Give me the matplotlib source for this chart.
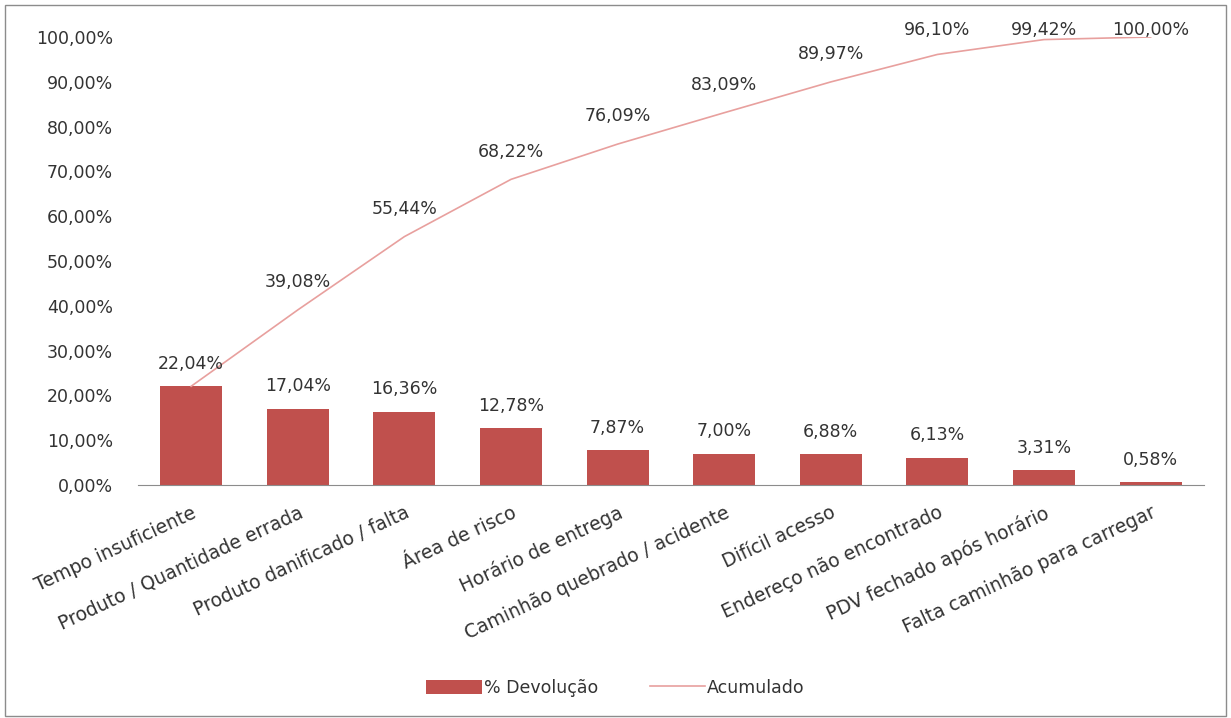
import matplotlib.pyplot as plt
from matplotlib.patches import Rectangle

categorias = ["Tempo insuficiente", "Produto / Quantidade errada",
              "Produto danificado / falta", "Área de risco",
              "Horário de entrega", "Caminhão quebrado / acidente",
              "Difícil acesso", "Endereço não encontrado",
              "PDV fechado após horário", "Falta caminhão para carregar"]
devolucao = [22.04, 17.04, 16.36, 12.78, 7.87, 7.00, 6.88, 6.13, 3.31, 0.58]
acumulado = [22.04, 39.08, 55.44, 68.22, 76.09, 83.09, 89.97, 96.10, 99.42, 100.00]
yticks = [0, 10, 20, 30, 40, 50, 60, 70, 80, 90, 100]


def fmt(v):
    return "{:.2f}%".format(v).replace(".", ",")


plt.rcParams['font.family'] = ['DejaVu Sans']
fs = 12.5
cor_txt = "#333333"
fig = plt.figure(figsize=(12.31, 7.18), dpi=100)
ax = fig.add_axes([0.112, 0.3245, 0.866, 0.624])

x = list(range(len(categorias)))
ax.bar(x, devolucao, width=0.58, color="#c0504d", label="% Devolução", zorder=2)
ax.plot(x, acumulado, color="#e8a09e", lw=1.2, label="Acumulado", zorder=3)

# rótulos das barras
for xi, v in zip(x, devolucao):
    ax.annotate(fmt(v), (xi, v), xytext=(0, 16), textcoords="offset points",
                ha="center", va="center", fontsize=fs, color=cor_txt)
# rótulos da linha (o primeiro coincide com o da barra)
for xi, v in list(zip(x, acumulado))[1:]:
    ax.text(xi, min(v + 6.2, 101.6), fmt(v), ha="center", va="center",
            fontsize=fs, color=cor_txt, clip_on=False)

ax.set_xlim(-0.5, len(categorias) - 0.5)
ax.set_ylim(0, 100)
ax.set_yticks(yticks)
ax.set_yticklabels([fmt(v) for v in yticks], fontsize=fs, color=cor_txt)
ax.set_xticks(x)
ax.set_xticklabels(categorias, rotation=25, ha="right", rotation_mode="anchor",
                   fontsize=13.5, color=cor_txt)
ax.tick_params(axis="both", length=0)
ax.tick_params(axis="y", pad=18)
ax.tick_params(axis="x", pad=13)
for s in ["top", "right", "left"]:
    ax.spines[s].set_visible(False)
ax.spines["bottom"].set_color("#8c8c8c")

h, l = ax.get_legend_handles_labels()
fig.legend(h[::-1], l[::-1], loc="center", bbox_to_anchor=(0.5, 0.042), ncol=2,
           frameon=False, fontsize=fs, handlelength=3.2, handleheight=0.9,
           columnspacing=3, handletextpad=0.1, labelcolor=cor_txt)

fig.patches.append(Rectangle((0.004, 0.003), 0.992, 0.99, transform=fig.transFigure,
                             fill=False, edgecolor="#8c8c8c", lw=1))

fig.savefig("out.png", dpi=100)
